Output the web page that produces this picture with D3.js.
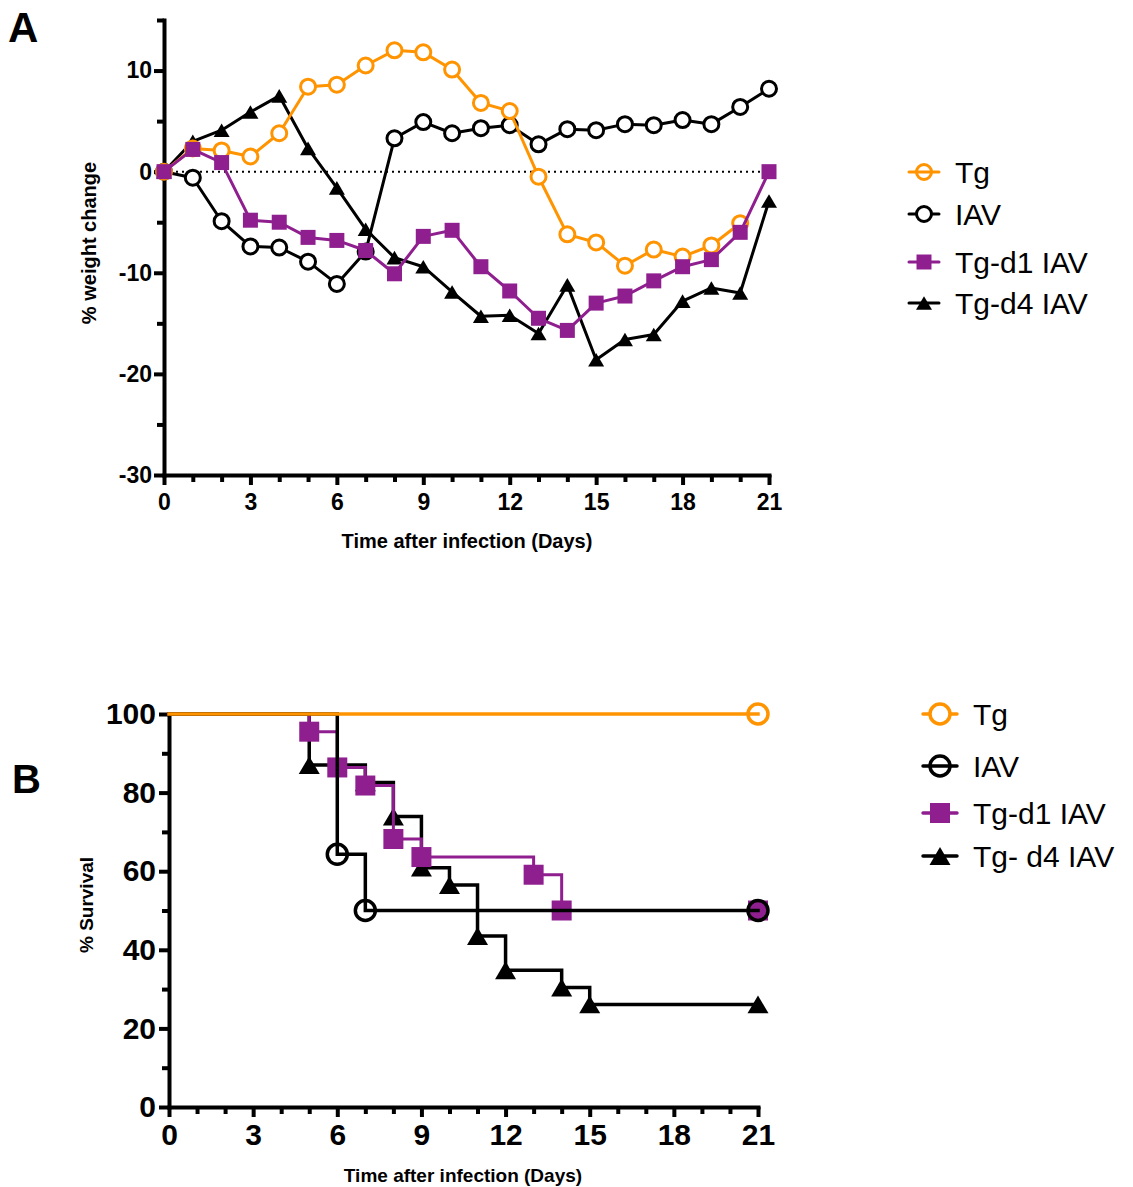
<!DOCTYPE html>
<html>
<head>
<meta charset="utf-8">
<script src="https://cdn.jsdelivr.net/npm/d3@7"></script>
<style>
	body { margin: 0; background: #fff; }
	svg { font-family: Arial, 'Liberation Sans', Helvetica, sans-serif; }
</style>
</head>
<body>
<svg id="chart"></svg>
<script>
// ========== DATA ==========
// panel A: % weight change per day
var days = [0, 1, 2, 3, 4, 5, 6, 7, 8, 9, 10, 11, 12, 13, 14, 15, 16, 17, 18, 19, 20, 21];
var weightTg = [0, 2.3, 2.1, 1.5, 3.8, 8.4, 8.6, 10.5, 12.0, 11.8, 10.1, 6.8, 6.0, -0.5, -6.2, -7.0, -9.3, -7.7, -8.4, -7.3, -5.1];
var weightIAV = [0, -0.6, -4.9, -7.4, -7.5, -8.9, -11.1, -7.9, 3.3, 4.9, 3.8, 4.3, 4.6, 2.7, 4.2, 4.1, 4.7, 4.6, 5.1, 4.7, 6.4, 8.2];
var weightTgD1 = [0, 2.2, 0.9, -4.8, -5.0, -6.5, -6.8, -7.8, -10.1, -6.4, -5.8, -9.4, -11.8, -14.5, -15.7, -13.0, -12.3, -10.8, -9.4, -8.7, -6.0, 0];
var weightTgD4 = [0, 3.0, 4.1, 5.9, 7.5, 2.3, -1.6, -5.7, -8.5, -9.4, -11.9, -14.3, -14.2, -16.0, -11.2, -18.6, -16.6, -16.1, -12.8, -11.5, -12.0, -2.9];

// panel B: Kaplan-Meier steps (day of drop, % survival after drop)
var survTgDays = [0, 21];
var survTgPct = [100, 100];
var survIAVDays = [0, 6, 7, 21];
var survIAVPct = [100, 64.3, 50, 50];
var survTgD1Days = [0, 5, 6, 7, 8, 9, 13, 14, 21];
var survTgD1Pct = [100, 95.5, 86.4, 81.8, 68.2, 63.6, 59.1, 50, 50];
var survTgD4Days = [0, 5, 7, 8, 9, 10, 11, 12, 14, 15, 21];
var survTgD4Pct = [100, 87.0, 82.6, 73.9, 60.9, 56.5, 43.5, 34.8, 30.4, 26.1, 26.1];

// ticks
var weightTicks = [-30, -20, -10, 0, 10];
var weightMinor = [-25, -15, -5, 5, 15];
var survTicks = [0, 20, 40, 60, 80, 100];
var survMinor = [10, 30, 50, 70, 90];
var dayTicks = [0, 3, 6, 9, 12, 15, 18, 21];
var dayMinor = [1, 2, 4, 5, 7, 8, 10, 11, 13, 14, 16, 17, 19, 20];

var legendA = ['Tg', 'IAV', 'Tg-d1 IAV', 'Tg-d4 IAV'];
var legendB = ['Tg', 'IAV', 'Tg-d1 IAV', 'Tg- d4 IAV'];

// ========== CONSTANTS ==========
var orange = '#ff9400';
var purple = '#8f1f8f';
var black = '#000000';

var svg = d3.select('svg#chart')
	.attr('width', 1133)
	.attr('height', 1187);

// plain hyphen for negatives, like the original
var plainFormat = function(d) { return String(d); };

function zip(xs, ys) {
	return ys.map(function(v, i) { return [xs[i], v]; });
}

function markerPath(shape, size) {
	if (shape === 'triangle') {
		var w = size, h = size * 0.85;
		return 'M0,' + (-h / 2) + 'L' + (w / 2) + ',' + (h / 2) + 'L' + (-w / 2) + ',' + (h / 2) + 'Z';
	}
	var s = size / 2;
	return 'M' + (-s) + ',' + (-s) + 'H' + s + 'V' + s + 'H' + (-s) + 'Z';
}

// draw one marker at (cx, cy)
function drawMarker(g, shape, color, cx, cy, opts) {
	if (shape === 'circle') {
		g.append('circle')
			.attr('cx', cx)
			.attr('cy', cy)
			.attr('r', opts.r)
			.attr('fill', opts.fill)
			.attr('stroke', color)
			.attr('stroke-width', opts.sw);
	} else {
		g.append('path')
			.attr('transform', 'translate(' + cx + ',' + cy + ')')
			.attr('d', markerPath(shape, shape === 'triangle' ? opts.tri : opts.sq))
			.attr('fill', color);
	}
}

function styleAxis(g, width) {
	g.select('.domain')
		.attr('stroke-width', width)
		.attr('stroke-linecap', 'square');
	g.selectAll('.tick line').attr('stroke-width', width);
}

// ========== PANEL A ==========
var xA = d3.scaleLinear().domain([0, 21]).range([164, 769]);
var yA = d3.scaleLinear().domain([-30, 15]).range([475, 20]);

var gA = svg.append('g');

// zero reference line
gA.append('line')
	.attr('x1', xA(0))
	.attr('x2', xA(21))
	.attr('y1', yA(0))
	.attr('y2', yA(0))
	.attr('stroke', black)
	.attr('stroke-width', 2)
	.style('stroke-dasharray', '2, 4');

// axes
var yAxisA = gA.append('g')
	.attr('transform', 'translate(' + xA(0) + ',0)')
	.call(d3.axisLeft(yA).tickValues(weightTicks).tickFormat(plainFormat).tickSize(10).tickSizeOuter(0).tickPadding(2));
yAxisA.selectAll('text')
	.style('font-size', '23px')
	.style('font-weight', 'bold')
	.attr('fill', black);
styleAxis(yAxisA, 4);

var yMinorA = gA.append('g')
	.attr('transform', 'translate(' + xA(0) + ',0)')
	.call(d3.axisLeft(yA).tickValues(weightMinor).tickSize(7).tickSizeOuter(0).tickFormat(''));
yMinorA.select('.domain').remove();
yMinorA.selectAll('.tick line').attr('stroke-width', 4);

var xAxisA = gA.append('g')
	.attr('transform', 'translate(0,' + yA(-30) + ')')
	.call(d3.axisBottom(xA).tickValues(dayTicks).tickFormat(plainFormat).tickSize(10).tickSizeOuter(0).tickPadding(9));
xAxisA.selectAll('text')
	.style('font-size', '23px')
	.style('font-weight', 'bold')
	.attr('fill', black);
styleAxis(xAxisA, 4);

var xMinorA = gA.append('g')
	.attr('transform', 'translate(0,' + yA(-30) + ')')
	.call(d3.axisBottom(xA).tickValues(dayMinor).tickSize(7).tickSizeOuter(0).tickFormat(''));
xMinorA.select('.domain').remove();
xMinorA.selectAll('.tick line').attr('stroke-width', 4);

gA.append('text')
	.attr('x', 467)
	.attr('y', 548)
	.attr('text-anchor', 'middle')
	.style('font-size', '20px')
	.style('font-weight', 'bold')
	.text('Time after infection (Days)');

gA.append('text')
	.attr('transform', 'translate(96,243)rotate(-90)')
	.attr('text-anchor', 'middle')
	.style('font-size', '20px')
	.style('font-weight', 'bold')
	.text('% weight change');

gA.append('text')
	.attr('x', 8)
	.attr('y', 42)
	.style('font-size', '42px')
	.style('font-weight', 'bold')
	.text('A');

// series, drawn bottom to top
var seriesA = [
	{ values: weightIAV, color: black, shape: 'circle' },
	{ values: weightTgD4, color: black, shape: 'triangle' },
	{ values: weightTg, color: orange, shape: 'circle' },
	{ values: weightTgD1, color: purple, shape: 'square' }
];
var lineA = d3.line()
	.x(function(d) { return xA(d[0]); })
	.y(function(d) { return yA(d[1]); });

seriesA.forEach(function(s) {
	var pts = zip(days, s.values);
	var g = gA.append('g');
	g.append('path')
		.attr('d', lineA(pts))
		.attr('fill', 'none')
		.attr('stroke', s.color)
		.attr('stroke-width', 3)
		.attr('stroke-linejoin', 'round');
	pts.forEach(function(p) {
		drawMarker(g, s.shape, s.color, xA(p[0]), yA(p[1]), { r: 7.5, sw: 3, fill: '#fff', sq: 15, tri: 16 });
	});
});

// legend A
var legendAStyle = [
	{ color: orange, shape: 'circle', through: true },
	{ color: black, shape: 'circle', through: false },
	{ color: purple, shape: 'square', through: true },
	{ color: black, shape: 'triangle', through: true }
];
var legendAY = [172, 214, 262, 303];
legendA.forEach(function(label, i) {
	var st = legendAStyle[i];
	var g = svg.append('g').attr('transform', 'translate(924,' + legendAY[i] + ')');
	g.append('line')
		.attr('x1', -15).attr('x2', 15)
		.attr('stroke', st.color)
		.attr('stroke-width', 3)
		.attr('stroke-linecap', 'round');
	drawMarker(g, st.shape, st.color, 0, 0, { r: 7.5, sw: 3, fill: st.through ? 'none' : '#fff', sq: 15, tri: 16 });
	g.append('text')
		.attr('x', 31)
		.attr('dy', '0.36em')
		.style('font-size', '30px')
		.text(label);
});

// ========== PANEL B ==========
var xB = d3.scaleLinear().domain([0, 21]).range([169, 758]);
var yB = d3.scaleLinear().domain([0, 100]).range([1107, 714]);

var gB = svg.append('g');

var yAxisB = gB.append('g')
	.attr('transform', 'translate(' + xB(0) + ',0)')
	.call(d3.axisLeft(yB).tickValues(survTicks).tickFormat(plainFormat).tickSize(10).tickSizeOuter(0).tickPadding(3));
yAxisB.selectAll('text')
	.style('font-size', '30px')
	.style('font-weight', 'bold')
	.attr('fill', black);
styleAxis(yAxisB, 4);

var yMinorB = gB.append('g')
	.attr('transform', 'translate(' + xB(0) + ',0)')
	.call(d3.axisLeft(yB).tickValues(survMinor).tickSize(7).tickSizeOuter(0).tickFormat(''));
yMinorB.select('.domain').remove();
yMinorB.selectAll('.tick line').attr('stroke-width', 4);

var xAxisB = gB.append('g')
	.attr('transform', 'translate(0,' + yB(0) + ')')
	.call(d3.axisBottom(xB).tickValues(dayTicks).tickFormat(plainFormat).tickSize(10).tickSizeOuter(0).tickPadding(7));
xAxisB.selectAll('text')
	.style('font-size', '30px')
	.style('font-weight', 'bold')
	.attr('fill', black);
styleAxis(xAxisB, 4);

var xMinorB = gB.append('g')
	.attr('transform', 'translate(0,' + yB(0) + ')')
	.call(d3.axisBottom(xB).tickValues(dayMinor).tickSize(7).tickSizeOuter(0).tickFormat(''));
xMinorB.select('.domain').remove();
xMinorB.selectAll('.tick line').attr('stroke-width', 4);

gB.append('text')
	.attr('x', 463)
	.attr('y', 1182)
	.attr('text-anchor', 'middle')
	.style('font-size', '19px')
	.style('font-weight', 'bold')
	.text('Time after infection (Days)');

gB.append('text')
	.attr('transform', 'translate(93,905)rotate(-90)')
	.attr('text-anchor', 'middle')
	.style('font-size', '19px')
	.style('font-weight', 'bold')
	.text('% Survival');

gB.append('text')
	.attr('x', 12)
	.attr('y', 793)
	.style('font-size', '40px')
	.style('font-weight', 'bold')
	.text('B');

var seriesB = [
	{ days: survTgD4Days, pct: survTgD4Pct, color: black, shape: 'triangle', sw: 3.5 },
	{ days: survTgD1Days, pct: survTgD1Pct, color: purple, shape: 'square', sw: 3 },
	{ days: survIAVDays, pct: survIAVPct, color: black, shape: 'circle', sw: 3.5 },
	{ days: survTgDays, pct: survTgPct, color: orange, shape: 'circle', sw: 3.5 }
];
var lineB = d3.line()
	.curve(d3.curveStepAfter)
	.x(function(d) { return xB(d[0]); })
	.y(function(d) { return yB(d[1]); });

seriesB.forEach(function(s) {
	var pts = zip(s.days, s.pct);
	var g = gB.append('g');
	g.append('path')
		.attr('d', lineB(pts))
		.attr('fill', 'none')
		.attr('stroke', s.color)
		.attr('stroke-width', s.sw)
		.attr('stroke-linecap', 'square');
	// markers at every drop and at the end, not at the start
	pts.slice(1).forEach(function(p) {
		drawMarker(g, s.shape, s.color, xB(p[0]), yB(p[1]), { r: 10, sw: 3.5, fill: 'none', sq: 20, tri: 21 });
	});
});

// legend B
var legendBStyle = [
	{ color: orange, shape: 'circle', fill: '#fff' },
	{ color: black, shape: 'circle', fill: 'none' },
	{ color: purple, shape: 'square', fill: 'none' },
	{ color: black, shape: 'triangle', fill: 'none' }
];
var legendBY = [714, 766, 813, 856];
legendB.forEach(function(label, i) {
	var st = legendBStyle[i];
	var g = svg.append('g').attr('transform', 'translate(940,' + legendBY[i] + ')');
	g.append('line')
		.attr('x1', -17).attr('x2', 17)
		.attr('stroke', st.color)
		.attr('stroke-width', 3.5)
		.attr('stroke-linecap', 'round');
	drawMarker(g, st.shape, st.color, 0, 0, { r: 10, sw: 3.5, fill: st.fill, sq: 20, tri: 21 });
	g.append('text')
		.attr('x', 33)
		.attr('dy', '0.36em')
		.style('font-size', '30px')
		.text(label);
});
</script>
</body>
</html>
